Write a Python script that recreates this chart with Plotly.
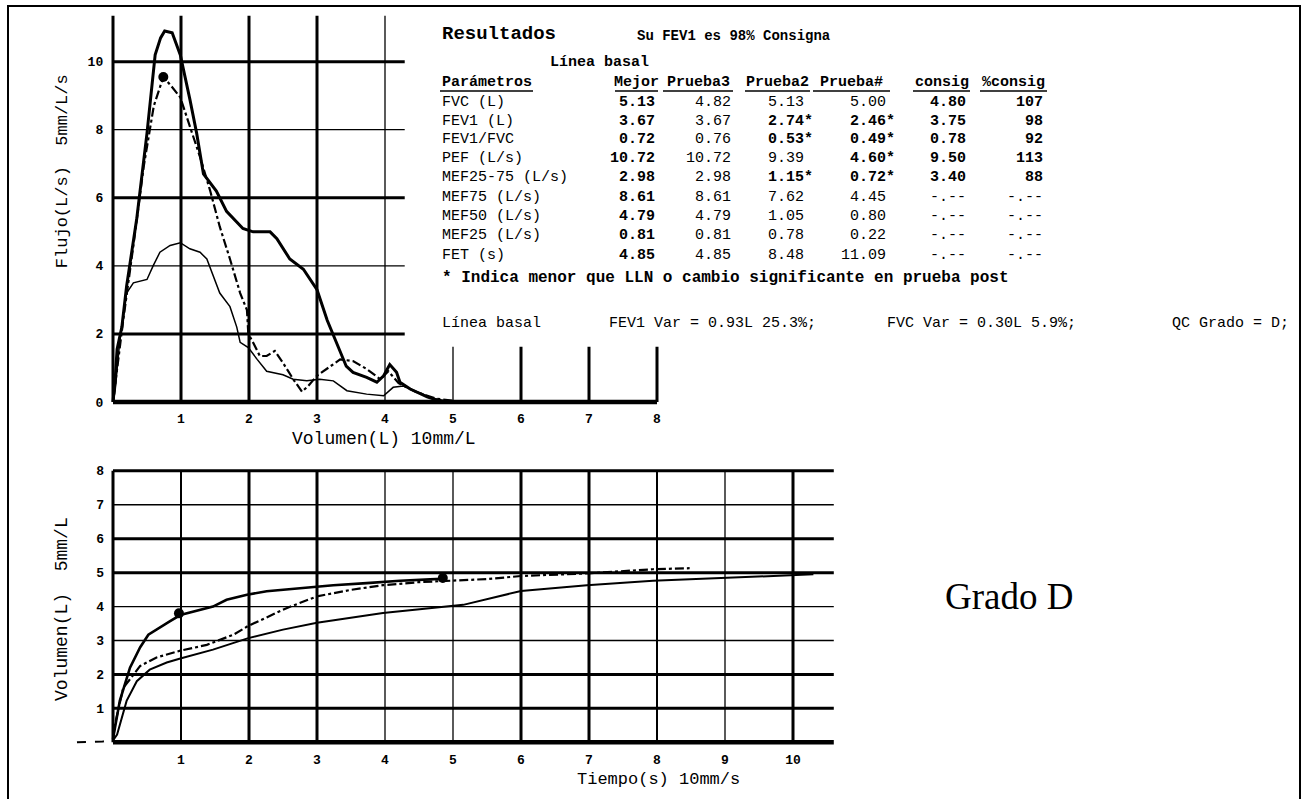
import plotly.graph_objects as go

W, H = 1302, 799

# ---------------- data ----------------
# Flow-volume curves (volume L, flow L/s)
fv_p3_vol = [0, 0.03, 0.06, 0.13, 0.2, 0.35, 0.5, 0.62, 0.7, 0.76, 0.87, 0.99, 1.13, 1.23, 1.33, 1.52, 1.67,
             1.91, 2.06, 2.31, 2.41, 2.6, 2.8, 3.0, 3.15, 3.29, 3.43, 3.53, 3.73, 3.88, 3.98, 4.07, 4.17, 4.22,
             4.37, 4.62, 4.82]
fv_p3_flow = [0, 0.6, 1.55, 2.2, 3.4, 5.4, 7.9, 10.2, 10.7, 10.9, 10.85, 10.2, 8.9, 7.9, 6.7, 6.2, 5.6,
              5.1, 5.0, 5.0, 4.8, 4.2, 3.9, 3.3, 2.4, 1.75, 1.05, 0.87, 0.72, 0.58, 0.77, 1.1, 0.87, 0.58,
              0.38, 0.15, 0.02]

fv_p2_vol = [0, 0.05, 0.15, 0.3, 0.45, 0.6, 0.74, 0.85, 0.99, 1.13, 1.28, 1.43, 1.57, 1.72, 1.87, 1.97, 1.99,
             2.06, 2.16, 2.26, 2.38, 2.5, 2.65, 2.78, 2.87, 3.0, 3.19, 3.34, 3.53, 3.73, 3.93, 4.05, 4.2, 4.45,
             4.75, 5.13]
fv_p2_flow = [0, 0.8, 2.4, 4.6, 6.9, 8.7, 9.55, 9.3, 8.95, 8.1, 7.2, 6.2, 5.15, 4.2, 3.2, 2.7, 2.0,
              1.75, 1.35, 1.35, 1.5, 1.15, 0.67, 0.3, 0.47, 0.77, 1.05, 1.25, 1.2, 0.97, 0.67, 0.9, 0.55, 0.3,
              0.1, 0.0]

fv_p1_vol = [0, 0.03, 0.1, 0.2, 0.3, 0.5, 0.59, 0.69, 0.84, 0.99, 1.13, 1.28, 1.38, 1.47, 1.57, 1.72, 1.82,
             1.87, 1.99, 2.12, 2.26, 2.5, 2.65, 2.85, 3.04, 3.24, 3.44, 3.73, 3.98, 4.12, 4.27, 4.47, 4.71, 5.0]
fv_p1_flow = [0, 0.3, 1.8, 3.2, 3.5, 3.6, 4.0, 4.4, 4.6, 4.68, 4.5, 4.4, 4.2, 3.7, 3.2, 2.8, 2.2,
              1.75, 1.6, 1.25, 0.9, 0.8, 0.67, 0.62, 0.67, 0.62, 0.33, 0.23, 0.18, 0.43, 0.47, 0.3, 0.1, 0.0]

fv_event_vol = [0.74]
fv_event_flow = [9.55]

# Volume-time curves (time s, volume L)
vt_p3_t = [0, 0.1, 0.25, 0.4, 0.52, 0.69, 0.84, 0.99, 1.28, 1.47, 1.67, 1.97, 2.26, 2.75, 3.24, 3.73, 4.22,
           4.66, 4.85]
vt_p3_v = [0.1, 1.22, 2.2, 2.8, 3.17, 3.37, 3.57, 3.75, 3.9, 4.0, 4.2, 4.35, 4.45, 4.55, 4.63, 4.69, 4.76,
           4.8, 4.82]

vt_p2_t = [0, 0.03, 0.15, 0.3, 0.4, 0.64, 0.99, 1.38, 1.77, 1.99, 2.26, 2.56, 3.0, 3.49, 3.97, 4.5, 5.5,
           6.0, 7.0, 7.94, 8.48]
vt_p2_v = [0.1, 0.53, 1.6, 2.0, 2.25, 2.5, 2.7, 2.87, 3.17, 3.43, 3.67, 3.96, 4.3, 4.49, 4.63, 4.72, 4.81,
           4.9, 4.98, 5.1, 5.13]

vt_p1_t = [0, 0.06, 0.2, 0.35, 0.54, 0.79, 0.99, 1.47, 1.99, 2.5, 3.0, 3.49, 3.97, 4.51, 5.15, 6.0, 6.97,
           7.94, 8.93, 9.66, 10.3]
vt_p1_v = [0.05, 0.23, 1.22, 1.8, 2.14, 2.35, 2.47, 2.73, 3.07, 3.32, 3.52, 3.67, 3.81, 3.92, 4.05, 4.46,
           4.63, 4.76, 4.84, 4.92, 4.95]

vt_pre_t = [-0.53, -0.15, 0]
vt_pre_v = [0.0, 0.02, 0.1]

vt_event_t = [0.97, 4.85]
vt_event_v = [3.8, 4.84]

# Axis ticks
fv_xticks = [1, 2, 3, 4, 5, 6, 7, 8]
fv_yticks = [0, 2, 4, 6, 8, 10]
vt_xticks = [1, 2, 3, 4, 5, 6, 7, 8, 9, 10]
vt_yticks = [1, 2, 3, 4, 5, 6, 7, 8]

# Results table
param_labels = ["FVC (L)", "FEV1 (L)", "FEV1/FVC", "PEF (L/s)", "MEF25-75 (L/s)", "MEF75 (L/s)",
                "MEF50 (L/s)", "MEF25 (L/s)", "FET (s)"]
col_headers = ["Mejor", "Prueba3", "Prueba2", "Prueba#", "consig", "%consig"]
col_mejor = ["5.13", "3.67", "0.72", "10.72", "2.98", "8.61", "4.79", "0.81", "4.85"]
col_prueba3 = ["4.82", "3.67", "0.76", "10.72", "2.98", "8.61", "4.79", "0.81", "4.85"]
col_prueba2 = ["5.13", "2.74*", "0.53*", "9.39", "1.15*", "7.62", "1.05", "0.78", "8.48"]
col_prueba1 = ["5.00", "2.46*", "0.49*", "4.60*", "0.72*", "4.45", "0.80", "0.22", "11.09"]
col_consig = ["4.80", "3.75", "0.78", "9.50", "3.40", "-.--", "-.--", "-.--", "-.--"]
col_pct = ["107", "98", "92", "113", "88", "-.--", "-.--", "-.--", "-.--"]

title_text = "Resultados"
subtitle_text = "Su FEV1 es 98% Consigna"
baseline_text = "Línea basal"
footnote_text = "* Indica menor que LLN o cambio significante en prueba post"
var_texts = ["Línea basal", "FEV1 Var = 0.93L 25.3%;", "FVC Var = 0.30L 5.9%;", "QC Grado = D;"]
grade_text = "Grado D"

# ---------------- layout helpers ----------------
def px(x):
    return x / W

def py(y):
    return 1 - y / H

MONO = "Liberation Mono"
fig = go.Figure()

# flow-volume traces
fig.add_trace(go.Scatter(x=fv_p3_vol, y=fv_p3_flow, mode="lines", line=dict(color="black", width=3),
                         xaxis="x", yaxis="y", name="Prueba3"))
fig.add_trace(go.Scatter(x=fv_p2_vol, y=fv_p2_flow, mode="lines",
                         line=dict(color="black", width=2.2, dash="dashdot"), xaxis="x", yaxis="y", name="Prueba2"))
fig.add_trace(go.Scatter(x=fv_p1_vol, y=fv_p1_flow, mode="lines", line=dict(color="black", width=1.5),
                         xaxis="x", yaxis="y", name="Prueba#"))
fig.add_trace(go.Scatter(x=fv_event_vol, y=fv_event_flow, mode="markers",
                         marker=dict(color="black", size=10), xaxis="x", yaxis="y"))

# volume-time traces
fig.add_trace(go.Scatter(x=vt_pre_t, y=vt_pre_v, mode="lines", line=dict(color="black", width=2, dash="dash"),
                         xaxis="x2", yaxis="y2"))
fig.add_trace(go.Scatter(x=vt_p3_t, y=vt_p3_v, mode="lines", line=dict(color="black", width=2.6),
                         xaxis="x2", yaxis="y2"))
fig.add_trace(go.Scatter(x=vt_p2_t, y=vt_p2_v, mode="lines", line=dict(color="black", width=2.2, dash="dashdot"),
                         xaxis="x2", yaxis="y2"))
fig.add_trace(go.Scatter(x=vt_p1_t, y=vt_p1_v, mode="lines", line=dict(color="black", width=2),
                         xaxis="x2", yaxis="y2"))
fig.add_trace(go.Scatter(x=vt_event_t, y=vt_event_v, mode="markers", marker=dict(color="black", size=10),
                         xaxis="x2", yaxis="y2"))

shapes = []
THICK, MED, THIN = 3, 2, 1.3

# flow-volume grid
fv_v_w = {0: THICK, 1: THICK, 2: THICK, 3: THICK, 4: THIN, 5: THIN, 6: THICK, 7: THICK, 8: THICK}
fv_h_w = {2: THICK, 4: THIN, 6: THICK, 8: THIN, 10: THICK}
for xv in [0] + fv_xticks:
    top = 11.35 if xv <= 4 else 1.62
    shapes.append(dict(type="line", xref="x", yref="y", x0=xv, x1=xv, y0=0, y1=top,
                       line=dict(color="black", width=fv_v_w[xv]), layer="below"))
for yv in fv_yticks:
    if yv == 0:
        shapes.append(dict(type="line", xref="x", yref="y", x0=0, x1=fv_xticks[-1], y0=0, y1=0,
                           line=dict(color="black", width=4.5), layer="below"))
    else:
        shapes.append(dict(type="line", xref="x", yref="y", x0=0, x1=4.29, y0=yv, y1=yv,
                           line=dict(color="black", width=fv_h_w[yv]), layer="below"))

# volume-time grid
vt_v_w = {0: THICK, 1: MED, 2: THICK, 3: THICK, 4: THIN, 5: THIN, 6: THICK, 7: THICK, 8: MED, 9: THIN, 10: THICK}
vt_h_w = {0: 4.5, 1: THICK, 2: THICK, 3: THIN, 4: THIN, 5: THICK, 6: THICK, 7: THIN, 8: THICK}
for xv in [0] + vt_xticks:
    shapes.append(dict(type="line", xref="x2", yref="y2", x0=xv, x1=xv, y0=0, y1=8,
                       line=dict(color="black", width=vt_v_w[xv]), layer="below"))
for yv in [0] + vt_yticks:
    shapes.append(dict(type="line", xref="x2", yref="y2", x0=0, x1=10.6, y0=yv, y1=yv,
                       line=dict(color="black", width=vt_h_w[yv]), layer="below"))

# outer border
shapes.append(dict(type="rect", xref="paper", yref="paper", x0=px(8), x1=px(1300), y0=-0.05, y1=py(5),
                   line=dict(color="black", width=2)))

annotations = []

def txt(s, x, y, size=15, bold=False, xanchor="left", family=MONO, angle=0):
    annotations.append(dict(text=s, x=px(x), y=py(y), xref="paper", yref="paper", showarrow=False,
                            xanchor=xanchor, yanchor="middle", textangle=angle,
                            font=dict(family=family, size=size, color="black",
                                      weight="bold" if bold else "normal")))

# axis titles
txt("Flujo(L/s)  5mm/L/s", 62, 171, size=17, xanchor="center", angle=-90)
txt("Volumen(L) 10mm/L", 384, 440, size=18, xanchor="center")
txt("Volumen(L)  5mm/L", 62, 611, size=18, xanchor="center", angle=-90)
txt("Tiempo(s) 10mm/s", 658, 782, size=17, xanchor="center")

# table
txt(title_text, 440, 33, size=19, bold=True)
txt(subtitle_text, 635, 35, size=14, bold=True)
txt(baseline_text, 548, 62, size=15, bold=True)
txt("Parámetros", 440, 82, size=15, bold=True)
header_span = [(615, 658), (663, 733), (745, 810), (813, 890), (913, 970), (980, 1047)]
for h, (a, b) in zip(col_headers, header_span):
    txt(h, (a + b) / 2, 82, size=15, bold=True, xanchor="center")
    shapes.append(dict(type="line", xref="paper", yref="paper", x0=px(a), x1=px(b), y0=py(90.5), y1=py(90.5),
                       line=dict(color="black", width=1.5)))
shapes.append(dict(type="line", xref="paper", yref="paper", x0=px(440), x1=px(533), y0=py(90.5), y1=py(90.5),
                   line=dict(color="black", width=1.5)))

row_y = [102, 121, 139.5, 158.5, 177, 197, 216.5, 236, 255.5]
for lab, yy in zip(param_labels, row_y):
    txt(lab, 440, yy, size=15)

columns = [(col_mejor, 657, "always"), (col_prueba3, 733, "never"), (col_prueba2, 806, "star"),
           (col_prueba1, 888, "star"), (col_consig, 968, "num"), (col_pct, 1045, "num")]
for vals, edge, rule in columns:
    for v, yy in zip(vals, row_y):
        star = v.endswith("*")
        if rule == "always":
            b = True
        elif rule == "never":
            b = False
        elif rule == "star":
            b = star
        else:
            b = not v.startswith("-")
        txt(v, edge + (9 if star else 0), yy, size=15, bold=b, xanchor="right")

txt(footnote_text, 440, 278, size=16, bold=True)

for s, x in zip(var_texts[:3], [440, 607, 885]):
    txt(s, x, 324, size=15)
txt(var_texts[3], 1291, 324, size=15, xanchor="right")

txt(grade_text, 943, 598, size=37, family="Liberation Serif")

tickfont = dict(family=MONO, size=13, color="black", weight="bold")

fig.update_layout(
    width=W, height=H, margin=dict(l=0, r=0, t=0, b=0),
    paper_bgcolor="white", plot_bgcolor="white", showlegend=False,
    xaxis=dict(domain=[px(106.2), px(663.8)], range=[-0.1, 8.1], anchor="y", showgrid=False, zeroline=False,
               showline=False, tickmode="array", tickvals=fv_xticks, ticks="", tickfont=tickfont,
               ticklabelstandoff=2),
    yaxis=dict(domain=[py(408.1), py(13.1)], range=[-0.15, 11.4], anchor="x", showgrid=False, zeroline=False,
               showline=False, tickmode="array", tickvals=fv_yticks, ticks="", tickfont=tickfont,
               ticklabelstandoff=2),
    xaxis2=dict(domain=[px(72.2), px(837.2)], range=[-0.6, 10.65], anchor="y2", showgrid=False, zeroline=False,
                showline=False, tickmode="array", tickvals=vt_xticks, ticks="", tickfont=tickfont,
                ticklabelstandoff=3),
    yaxis2=dict(domain=[py(750.1), py(467.1)], range=[-0.15, 8.15], anchor="free", position=px(106),
                showgrid=False, zeroline=False, showline=False, tickmode="array", tickvals=vt_yticks,
                ticks="", tickfont=tickfont, ticklabelstandoff=2),
    shapes=shapes, annotations=annotations,
)

fig.write_html("out.html", config={"displayModeBar": False},
               post_script="document.body.style.margin='0';")
